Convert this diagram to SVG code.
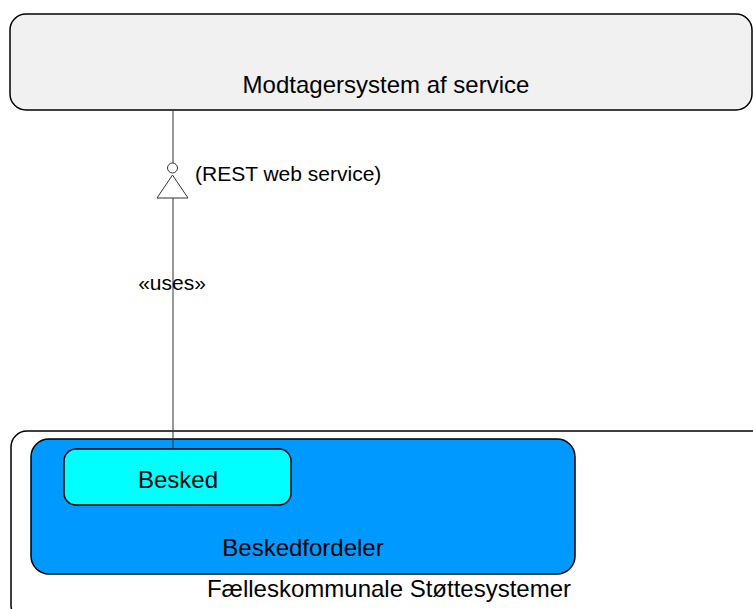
<svg xmlns="http://www.w3.org/2000/svg" width="753" height="609" viewBox="0 0 753 609">
<style>
text{font-family:"Liberation Sans",Arial,sans-serif;fill:#000}
.lbl{font-size:24px;text-anchor:middle}
.small{font-size:21px}
.box{stroke:#000;stroke-width:1.5}
.conn{stroke:#333;stroke-width:1;fill:none}
</style>
<rect width="753" height="609" fill="#fff"/>
<g id="modtager">
<rect class="box" x="10" y="14" width="742" height="96" rx="16" fill="#f1f1f1"/>
<text class="lbl" x="386" y="93">Modtagersystem af service</text>
</g>
<g id="faelles">
<rect class="box" x="11" y="431" width="760" height="190" rx="16" fill="#fff"/>
<text class="lbl" x="389" y="597">Fælleskommunale Støttesystemer</text>
</g>
<g id="beskedfordeler">
<rect class="box" x="31" y="439" width="544" height="135" rx="18" fill="#0099ff"/>
<text class="lbl" x="303" y="556">Beskedfordeler</text>
</g>
<g id="besked">
<rect class="box" x="64" y="449" width="227" height="56" rx="12" fill="#00ffff"/>
<text class="lbl" x="178" y="488">Besked</text>
</g>
<g id="connectors">
<line class="conn" x1="173" y1="110" x2="173" y2="163"/>
<circle class="conn" cx="172.5" cy="168" r="5"/>
<polygon class="conn" points="172.5,175 157,198 188,198" stroke="#000" stroke-width="1.3"/>
<line class="conn" x1="173" y1="198" x2="173" y2="449"/>
<text class="small" x="195" y="181">(REST web service)</text>
<text class="small" x="172" y="290" text-anchor="middle">«uses»</text>
</g>
</svg>
